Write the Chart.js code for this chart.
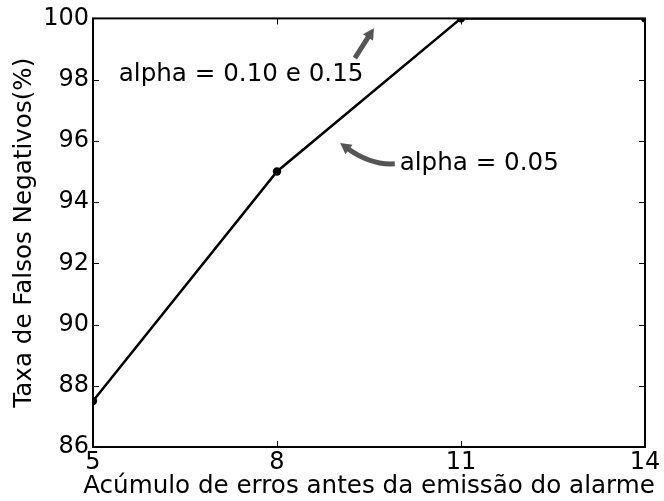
<!DOCTYPE html>
<html>
<head>
<meta charset="utf-8">
<script src="https://cdn.jsdelivr.net/npm/chart.js@4"></script>
<style>
  html, body { margin: 0; padding: 0; background: #fff; }
  #wrap { width: 664px; height: 501px; }
</style>
</head>
<body>
<div id="wrap"><canvas id="myChart" width="664" height="501"></canvas></div>
<script>
// data
let errosAcumulados = [5, 8, 11, 14];
let taxaFalsosNeg = [87.5, 95, 100, 100];
let xTicks = [5, 8, 11, 14];
let yTicks = [86, 88, 90, 92, 94, 96, 98, 100];
let xTitle = 'Acúmulo de erros antes da emissão do alarme';

// annotations (data coords)
let notes = [
    { text: 'alpha = 0.10 e 0.15', x: 5.42, y: 98.18, from: [9.27, 98.70], to: [9.58, 99.68], bend: 0 },
    { text: 'alpha = 0.05', x: 10.0, y: 95.25, from: [9.92, 95.25], to: [9.03, 95.93], bend: 1 }
];

const FONT = "'DejaVu Sans', 'Liberation Sans', sans-serif";
Chart.defaults.color = '#000';
Chart.defaults.font.family = FONT;

//draw the box, inward ticks, x title and the arrows
const extras = {
    id: 'extras',
    afterDraw(chart) {
        const ctx = chart.ctx;
        const a = chart.chartArea;
        const xs = chart.scales.x, ys = chart.scales.y;
        ctx.save();
        ctx.strokeStyle = '#000';
        ctx.lineWidth = 1;
        xTicks.forEach(v => {
            const px = Math.round(xs.getPixelForValue(v)) + 0.5;
            ctx.beginPath();
            ctx.moveTo(px, a.bottom); ctx.lineTo(px, a.bottom - 6);
            ctx.moveTo(px, a.top); ctx.lineTo(px, a.top + 6);
            ctx.stroke();
        });
        yTicks.forEach(v => {
            const py = Math.round(ys.getPixelForValue(v)) + 0.5;
            ctx.beginPath();
            ctx.moveTo(a.left, py); ctx.lineTo(a.left + 6, py);
            ctx.moveTo(a.right, py); ctx.lineTo(a.right - 6, py);
            ctx.stroke();
        });
        ctx.lineWidth = 2;
        ctx.strokeRect(a.left, a.top, a.right - a.left, a.bottom - a.top);

        // x axis title (not squeezed to the plot width)
        ctx.font = '24.6px ' + FONT;
        ctx.fillStyle = '#000';
        ctx.textAlign = 'center';
        ctx.textBaseline = 'middle';
        ctx.fillText(xTitle, (a.left + a.right) / 2, 487);

        // annotations
        ctx.textAlign = 'left';
        notes.forEach(n => {
            ctx.fillText(n.text, xs.getPixelForValue(n.x), ys.getPixelForValue(n.y));
            const x0 = xs.getPixelForValue(n.from[0]), y0 = ys.getPixelForValue(n.from[1]);
            const x1 = xs.getPixelForValue(n.to[0]), y1 = ys.getPixelForValue(n.to[1]);
            let ang;
            ctx.strokeStyle = '#555';
            ctx.fillStyle = '#555';
            ctx.lineWidth = 5;
            ctx.lineCap = 'butt';
            // shorten shaft so the head sits at the tip
            if (n.bend) {
                const cx = (x0 + x1) / 2 + 3, cy = (y0 + y1) / 2 + 12;
                ang = Math.atan2(y1 - cy, x1 - cx);
                ctx.beginPath();
                ctx.moveTo(x0, y0);
                ctx.quadraticCurveTo(cx, cy, x1 - 8 * Math.cos(ang), y1 - 8 * Math.sin(ang));
                ctx.stroke();
            } else {
                ang = Math.atan2(y1 - y0, x1 - x0);
                ctx.beginPath();
                ctx.moveTo(x0, y0);
                ctx.lineTo(x1 - 8 * Math.cos(ang), y1 - 8 * Math.sin(ang));
                ctx.stroke();
            }
            ctx.beginPath();
            ctx.moveTo(x1, y1);
            ctx.lineTo(x1 - 11 * Math.cos(ang) + 6 * Math.sin(ang), y1 - 11 * Math.sin(ang) - 6 * Math.cos(ang));
            ctx.lineTo(x1 - 11 * Math.cos(ang) - 6 * Math.sin(ang), y1 - 11 * Math.sin(ang) + 6 * Math.cos(ang));
            ctx.closePath();
            ctx.fill();
            ctx.fillStyle = '#000';
        });
        ctx.restore();
    }
};

const chart = document.getElementById('myChart').getContext('2d');
const myChart = new Chart(chart, {
    type: 'line',
    data: {
        datasets: [{
            data: errosAcumulados.map((x, i) => ({ x: x, y: taxaFalsosNeg[i] })),
            borderColor: '#000',
            backgroundColor: '#000',
            borderWidth: 2.5,
            pointRadius: 4.2,
            pointBackgroundColor: '#000',
            pointBorderWidth: 0,
            tension: 0,
            clip: 0
        }]
    },
    options: {
        responsive: false,
        animation: false,
        layout: { padding: { top: 17, right: 19, left: 0, bottom: 0 } },
        plugins: {
            legend: { display: false },
            tooltip: { enabled: false }
        },
        scales: {
            x: {
                type: 'linear',
                min: 5,
                max: 14,
                afterBuildTicks: s => { s.ticks = xTicks.map(v => ({ value: v })); },
                afterFit: s => { s.height = 54; },
                grid: { display: false, drawTicks: false },
                border: { display: false },
                ticks: { font: { size: 24 }, padding: 1, maxRotation: 0, autoSkip: false }
            },
            y: {
                min: 86,
                max: 100,
                afterBuildTicks: s => { s.ticks = yTicks.map(v => ({ value: v })); },
                afterFit: s => { s.width = 93; },
                grid: { display: false, drawTicks: false },
                border: { display: false },
                ticks: { font: { size: 24 }, padding: 4, autoSkip: false },
                title: {
                    display: true,
                    text: 'Taxa de Falsos Negativos(%)',
                    font: { size: 24.6 },
                    padding: { top: 10, bottom: 0 }
                }
            }
        }
    },
    plugins: [extras]
});
</script>
</body>
</html>
